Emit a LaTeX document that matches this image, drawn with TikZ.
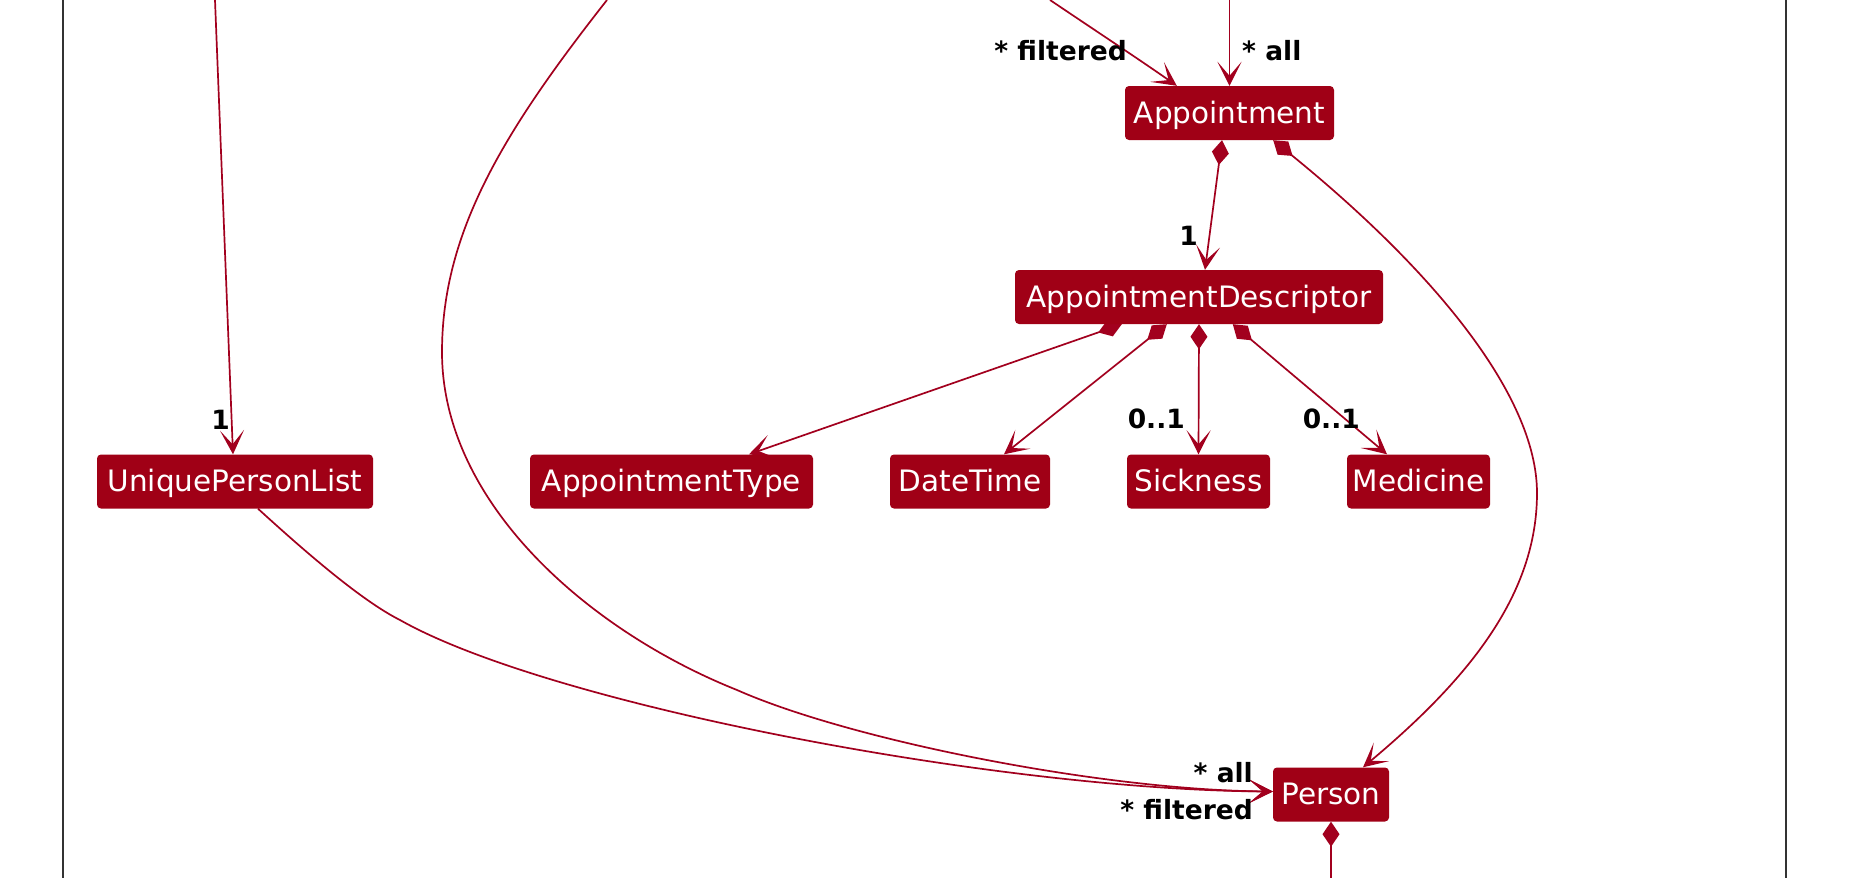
\documentclass[tikz,border=0pt]{standalone}
\usepackage{fontspec}
\setmainfont{DejaVu Sans}
\usetikzlibrary{arrows.meta,calc}
\definecolor{nodefill}{RGB}{160,0,22}
\definecolor{edgecol}{RGB}{162,0,30}
\definecolor{framecol}{RGB}{51,51,51}
\pgfdeclarelayer{bgfill}
\pgfdeclarelayer{edges}
\pgfsetlayers{bgfill,edges,main}
\begin{document}
\begin{tikzpicture}[x=1pt,y=-1pt,
  cls/.style={fill=nodefill, rounded corners=4pt, text=white, minimum height=54pt,
    inner sep=0pt, text height=22pt, text depth=2pt, font=\fontsize{29.5}{34}\selectfont},
  lbl/.style={font=\bfseries\fontsize{26.5}{30}\selectfont, inner sep=0pt, text=black},
  assoc/.style={draw=edgecol, line width=1.7pt, -{Stealth[length=24pt,width=24pt,inset=14pt]}},
  comp/.style={draw=edgecol, line width=1.7pt, {Diamond[length=25pt,width=17pt]}-{Stealth[length=24pt,width=24pt,inset=14pt]}},
  compend/.style={draw=edgecol, line width=1.7pt, {Diamond[length=25pt,width=17pt]}-},
  frameline/.style={draw=framecol, line width=2.5pt}
  ]
\useasboundingbox (0,0) rectangle (1856,878);
\begin{pgfonlayer}{bgfill}
\fill[white] (0,0) rectangle (1856,878);
\end{pgfonlayer}

% frame
\coordinate (fl1) at (63,0);
\coordinate (fl2) at (63,878);
\coordinate (fr1) at (1786,0);
\coordinate (fr2) at (1786,878);
\draw[frameline] (fl1) -- (fl2);
\draw[frameline] (fr1) -- (fr2);

% nodes
\node[cls, minimum width=209pt] (app) at (1229.5,113) {Appointment};
\node[cls, minimum width=368pt] (ad) at (1199,297) {AppointmentDescriptor};
\node[cls, minimum width=276pt] (upl) at (235,481.5) {UniquePersonList};
\node[cls, minimum width=283pt] (at) at (671.5,481.5) {AppointmentType};
\node[cls, minimum width=160pt] (dt) at (970,481.5) {DateTime};
\node[cls, minimum width=143pt] (sick) at (1198.5,481.5) {Sickness};
\node[cls, minimum width=143pt] (med) at (1418.5,481.5) {Medicine};
\node[cls, minimum width=116pt] (person) at (1331,794.5) {Person};

% free ends
\coordinate (t1) at (215,0);
\coordinate (t2) at (1229.5,0);
\coordinate (t3) at (1050,0);
\coordinate (t4) at (607,0);
\coordinate (b1) at (1331,878);

\begin{pgfonlayer}{edges}
\draw[assoc] (t1) -- ($(upl.north)+(-2,0)$);
\draw[assoc] (t2) -- (app.north);
\draw[assoc] (t3) .. controls (1090,27) and (1140,60) .. ($(app.north west)+(52,0)$);
\draw[assoc] (t4) .. controls (504,131) and (442,232) .. (442,352)
   .. controls (442,502) and (587,630) .. (737,690)
   .. controls (850,740) and (1100,790) .. ($(person.west)+(0,-3)$);
\draw[assoc] ($(upl.south)+(23,0)$) .. controls (300,547) and (360,600) .. (400,620)
   .. controls (550,705) and (1000,790) .. ($(person.west)+(0,-3)$);
\draw[comp] ($(app.south east)+(-61,0)$) .. controls (1428,266) and (1537,393) .. (1537,493)
   .. controls (1537,593) and (1471,677) .. ($(person.north)+(32,0)$);
\draw[comp] ($(app.south)+(-7.5,0)$) -- ($(ad.north)+(6,0)$);
\draw[comp] ($(ad.south west)+(107,0)$) -- ($(at.north)+(77.5,0)$);
\draw[comp] ($(ad.south west)+(152,0)$) -- ($(dt.north)+(34,0)$);
\draw[comp] (ad.south) -- (sick.north);
\draw[comp] ($(ad.south west)+(218,0)$) -- ($(med.north)+(-31.5,0)$);
\draw[compend] (person.south) -- (b1);
\end{pgfonlayer}

% labels
\node[lbl, anchor=base east] (lf1) at (1127,60) {* filtered};
\node[lbl, anchor=base west] (la1) at (1242,60) {* all};
\node[lbl, anchor=base east] (l1a) at (1198,245) {1};
\node[lbl, anchor=base east] (l1u) at (230,429) {1};
\node[lbl, anchor=base east] (l01s) at (1185,428) {0..1};
\node[lbl, anchor=base east] (l01m) at (1360,428) {0..1};
\node[lbl, anchor=base east] (la2) at (1253,782) {* all};
\node[lbl, anchor=base east] (lf2) at (1253,819) {* filtered};
\end{tikzpicture}
\end{document}
